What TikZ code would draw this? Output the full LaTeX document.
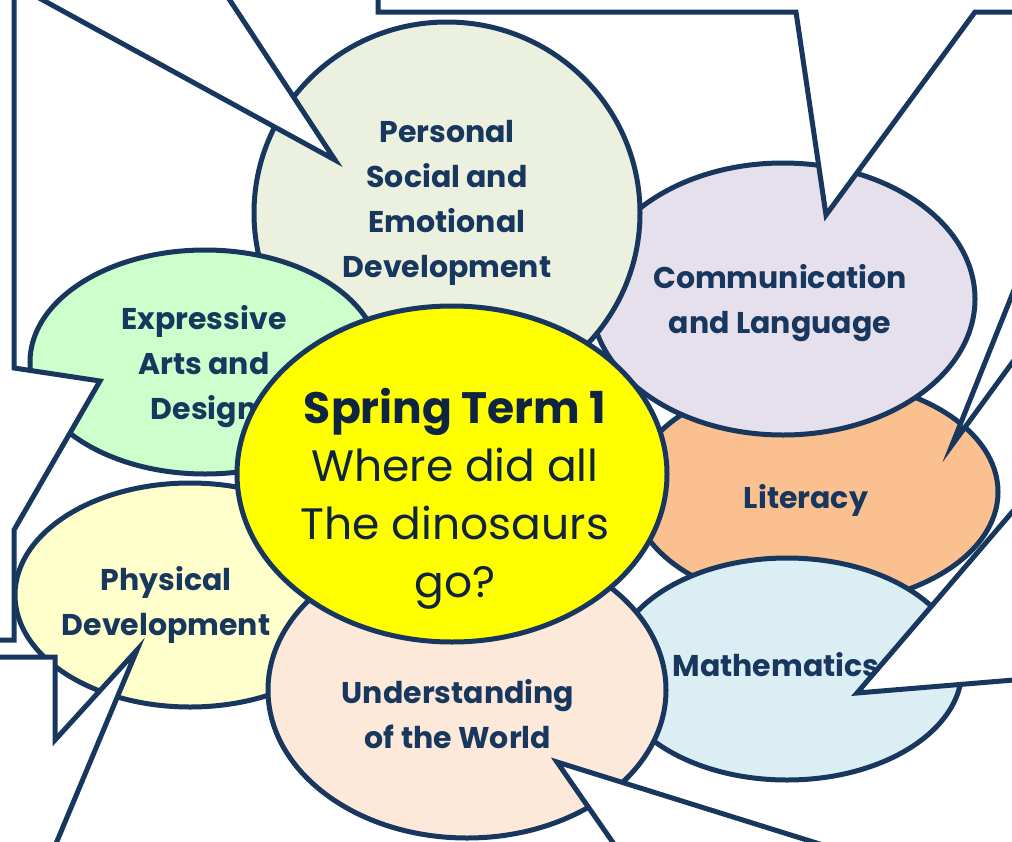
\documentclass[tikz,border=0pt]{standalone}
\usepackage{fontspec}
\setmainfont{Poppins}
\usetikzlibrary{shapes.geometric}
\definecolor{navy}{HTML}{17375E}
\definecolor{darknavy}{HTML}{0F243E}
\definecolor{psefill}{HTML}{EBF1DE}
\definecolor{clfill}{HTML}{E5E0EC}
\definecolor{litfill}{HTML}{FAC090}
\definecolor{mathfill}{HTML}{DBEEF4}
\definecolor{uwfill}{HTML}{FDE9D9}
\definecolor{pdfill}{HTML}{FFFFCC}
\definecolor{eadfill}{HTML}{CCFFCC}
\definecolor{centrefill}{HTML}{FFFF00}
\begin{document}
\begin{tikzpicture}[x=1pt,y=-1pt,
  blob/.style={ellipse, draw=navy, line width=5pt, inner sep=0pt},
  lab/.style={text=navy, font=\bfseries\fontsize{30}{45}\selectfont, align=center, inner sep=0pt},
  callout/.style={draw=navy, fill=white, line width=5pt}]
\useasboundingbox (0,0) rectangle (1012,841);
\clip (0,0) rectangle (1012,841);
\fill[white] (0,0) rectangle (1012,841);

% ellipses, back to front
\node[blob, fill=litfill, minimum width=366pt, minimum height=226pt] (lit) at (815,492) {};
\node[lab] (litT) at (806,500) {Literacy};

\node[blob, fill=clfill, minimum width=384pt, minimum height=272pt] (cl) at (783,299) {};
\node[lab] (clT) at (780,303) {Communication\\and Language};

\node[blob, fill=psefill, minimum width=386pt, minimum height=382pt] (pse) at (447,213) {};
\node[lab] (pseT) at (447,203) {Personal\\Social and\\Emotional\\Development};

\node[blob, fill=eadfill, minimum width=350pt, minimum height=224pt] (ead) at (205,362) {};
\node[lab] (eadT) at (204,367) {Expressive\\Arts and\\Design};

\node[blob, fill=pdfill, minimum width=350pt, minimum height=224pt] (pd) at (190,595) {};
\node[lab] (pdT) at (166,605) {Physical\\Development};

\node[blob, fill=mathfill, minimum width=350pt, minimum height=222pt] (math) at (787,669) {};
\node[lab] (mathT) at (776,665) {Mathematics};

\node[blob, fill=uwfill, minimum width=398pt, minimum height=296pt] (uw) at (467,690) {};
\node[lab] (uwT) at (458,714) {Understanding\\of the World};

\node[blob, fill=centrefill, minimum width=430pt, minimum height=336pt] (centre) at (452,474) {};
\node[text=darknavy, font=\fontsize{44}{58}\selectfont, align=center, inner sep=0pt] (centreT) at (455,499)
  {\textbf{Spring Term 1}\\Where did all\\The dinosaurs\\go?};

% callouts (white speech bubbles running off the page)
\draw[callout] (-12,-30) -- (335,160) -- (210,-30) -- cycle;
\draw[callout] (-40,-40) -- (14,-40) -- (14,368) -- (100,381) -- (14,530) -- (14,640) -- (-40,640) -- cycle;
\draw[callout] (-40,657) -- (55,657) -- (55,740) -- (137,650) -- (55,846) -- (55,900) -- (-40,900) -- cycle;
\draw[callout] (378,-40) -- (378,12) -- (796,12) -- (826,215) -- (975,12) -- (1060,12) -- (1060,-40) -- cycle;
\draw[callout] (1050,200) -- (952,445) -- (1050,311) -- cycle;
\draw[callout] (1050,468) -- (857,693) -- (1050,677) -- cycle;
\draw[callout] (557,762) -- (639,880) -- (935,880) -- cycle;
\end{tikzpicture}
\end{document}
